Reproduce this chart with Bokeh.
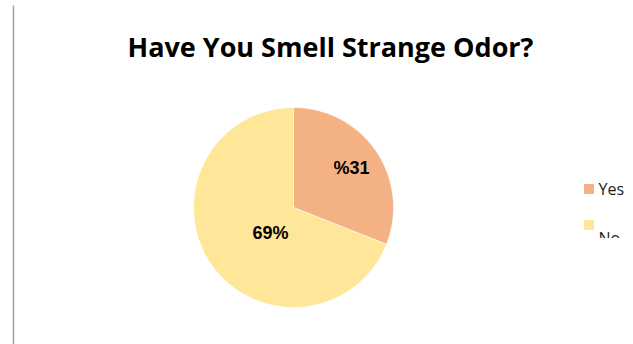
from bokeh.plotting import figure
from bokeh.models import Range1d, ColumnDataSource
from bokeh.core.properties import value
from bokeh.embed import file_html
from bokeh.resources import INLINE
import math

# Survey answers
categories = ["Yes", "No"]
shares = [31, 69]
label_texts = ["%31", "69%"]
colors = ["#F4B183", "#FFE699"]

W, H = 633, 344

p = figure(width=W, height=H, output_backend="svg", toolbar_location=None,
           x_range=Range1d(0, W), y_range=Range1d(0, H),
           min_border=0, outline_line_color=None)
p.axis.visible = False
p.grid.visible = False
p.background_fill_color = "white"
p.border_fill_color = "white"

def Y(y):
    return H - y

# left border line of the chart area
p.segment(x0=[13], y0=[Y(5)], x1=[13], y1=[Y(344)], line_color="#A0A0A0", line_width=1.5)

# pie, clockwise from 12 o'clock
cx, cy, r = 293, Y(207), 100
total = sum(shares)
ends, starts, mids = [], [], []
acc = 0.0
for v in shares:
    a0 = math.pi / 2 - 2 * math.pi * acc / total
    acc += v
    a1 = math.pi / 2 - 2 * math.pi * acc / total
    starts.append(a1)
    ends.append(a0)
    mids.append((a0 + a1) / 2)

src = ColumnDataSource(dict(start=starts, end=ends, color=colors))
p.wedge(x=cx, y=cy, radius=r, start_angle="start", end_angle="end",
        fill_color="color", line_color="white", line_width=0.5, source=src)

# data labels: radial placement per slice
label_rad = [0.70, 0.34]
label_turn = [0.0, 0.23]
lx = [cx + r * f * math.cos(m + t) for f, m, t in zip(label_rad, mids, label_turn)]
ly = [cy + r * f * math.sin(m + t) for f, m, t in zip(label_rad, mids, label_turn)]
p.text(x=lx, y=ly, text=label_texts, text_align="center", text_baseline="middle",
       text_font=value("Liberation Sans"), text_font_style="bold",
       text_font_size="18px", text_color="#000000")

# title
p.text(x=[330], y=[Y(46)], text=["Have You Smell Strange Odor?"],
       text_align="center", text_baseline="middle",
       text_font=value("Open Sans"), text_font_style="bold",
       text_font_size="27px", text_color="#000000")

# legend
p.rect(x=[588.5, 588.5], y=[Y(188.5), Y(224.5)], width=10, height=10,
       fill_color=colors, line_color=None)
p.text(x=[598, 598], y=[Y(188), Y(237)], text=categories, text_align="left",
       text_baseline="middle", text_font=value("Open Sans"), text_font_size="16px",
       text_color="#1a1a1a")
# legend box is cut at its lower edge
p.quad(left=[595], right=[W], bottom=[0], top=[Y(237.5)], fill_color="white", line_color=None)

open("out.html", "w").write(file_html(p, INLINE))
